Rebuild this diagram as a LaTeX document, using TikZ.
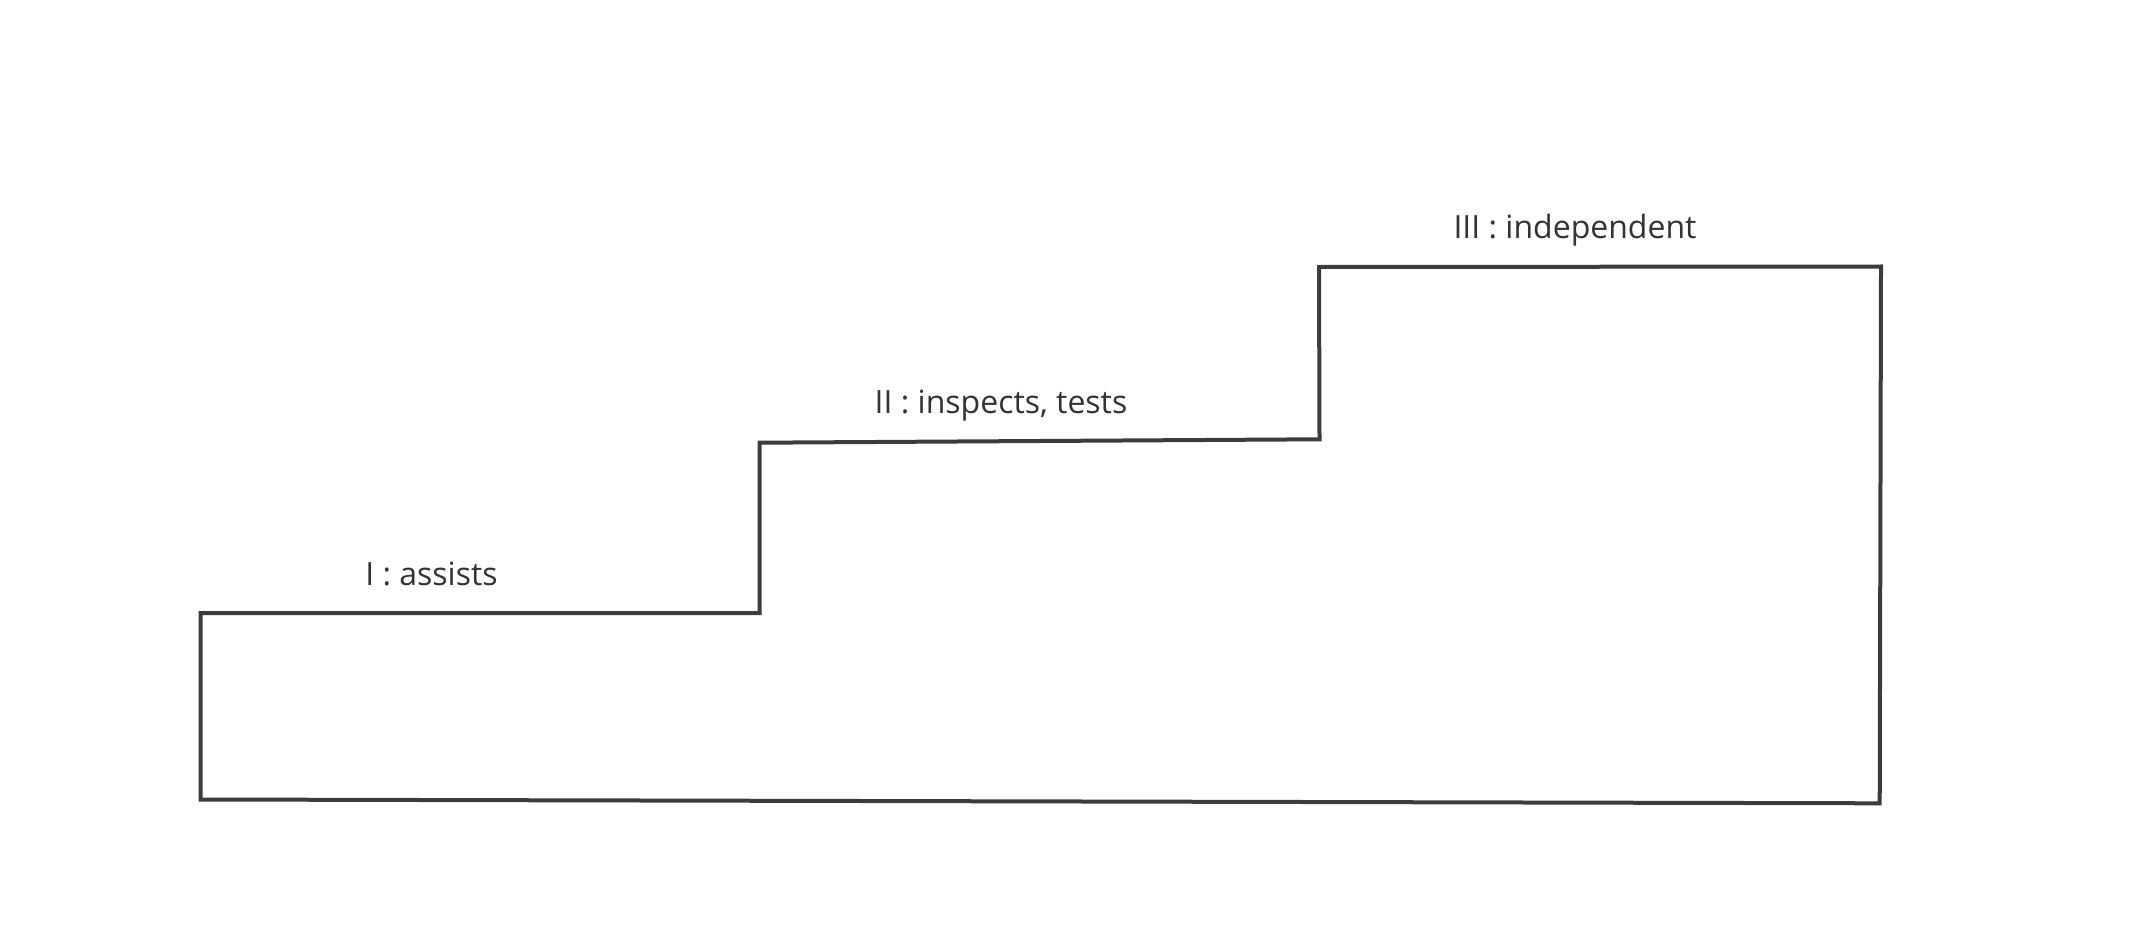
\documentclass[tikz,border=0pt]{standalone}
\usepackage{fontspec}
\setmainfont{Open Sans}
\definecolor{linec}{HTML}{3C3C3E}
\definecolor{textc}{HTML}{333333}
\begin{document}
\begin{tikzpicture}[x=1pt,y=-1pt,
  stair/.style={draw=linec,line width=4pt,line join=miter},
  lbl/.style={anchor=base,text=textc,font=\fontsize{32}{38}\selectfont,inner sep=0pt}]
\useasboundingbox (0,0) rectangle (2133,933);
\coordinate (a) at (200.5,799.5);
\coordinate (b) at (200.5,613);
\coordinate (c) at (759.7,613);
\coordinate (d) at (759.7,442.7);
\coordinate (e) at (1319.5,439.3);
\coordinate (f) at (1319,267);
\coordinate (g) at (1881,266.5);
\coordinate (h) at (1879.7,803.3);
\draw[stair] (a) -- (b) -- (c) -- (d) -- (e) -- (f) -- (g) -- (h) -- cycle;
\node[lbl] (l1) at (431.5,585) {I : assists};
\node[lbl] (l2) at (1001,413) {II : inspects, tests};
\node[lbl] (l3) at (1575,239) {III : independent};
\end{tikzpicture}
\end{document}
